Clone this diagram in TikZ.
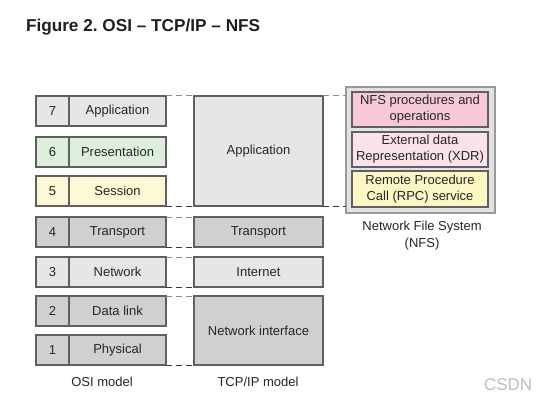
\documentclass[tikz,border=0pt]{standalone}
\usepackage{fontspec}
\setmainfont{Liberation Sans}
\begin{document}
\frenchspacing
\begin{tikzpicture}[x=1pt,y=-1pt,
  every node/.style={inner sep=0pt, outer sep=0pt},
  lay/.style={draw=boxborder, line width=1.1pt, font=\fontsize{13}{14}\selectfont, text=txt, anchor=center},
  lbl/.style={font=\fontsize{13}{15}\selectfont, text=txt},
  dtop/.style={draw=dashtop, line width=1pt, dash pattern=on 6pt off 4pt},
  dbot/.style={draw=dashbot, line width=1pt, dash pattern=on 6pt off 4pt}]
\definecolor{boxborder}{HTML}{606060}
\definecolor{txt}{HTML}{262626}
\definecolor{lightg}{HTML}{E6E6E8}
\definecolor{darkg}{HTML}{D0D0D2}
\definecolor{greenf}{HTML}{DDEFDC}
\definecolor{yellowf}{HTML}{FDF8D6}
\definecolor{pinka}{HTML}{F7C8DA}
\definecolor{pinkb}{HTML}{FBE1EB}
\definecolor{yellowb}{HTML}{FCF5C4}
\definecolor{nfsouter}{HTML}{E2E2E2}
\definecolor{nfsborder}{HTML}{9A9A9A}
\definecolor{dashtop}{HTML}{8A8A8A}
\definecolor{dashbot}{HTML}{3A3A3A}
\definecolor{wm}{HTML}{BDBDBD}
\useasboundingbox (0,0) rectangle (549,409);
\fill[white] (0,0) rectangle (549,409);

% title
\node[anchor=west, font=\bfseries\fontsize{17.2}{19}\selectfont, text=black!88] (title) at (26,27) {Figure 2. OSI -- TCP/IP -- NFS};

% OSI layers
\foreach \n/\name/\c/\col in {7/Application/111/lightg, 6/Presentation/152/greenf, 5/Session/191/yellowf, 4/Transport/232/darkg, 3/Network/272/lightg, 2/Data link/311/darkg, 1/Physical/350/darkg}{
  \node[lay, fill=\col, minimum width=33pt, minimum height=30pt] (num\n) at (52.5,\c) {\n};
  \node[lay, fill=\col, minimum width=97pt, minimum height=30pt] (osi\n) at (117.5,\c) {\name};
}
\node[lbl] (osilabel) at (102,382) {OSI model};

% TCP/IP
\node[lay, fill=lightg, minimum width=129pt, minimum height=110pt] (tapp) at (258.5,151) {Application};
\node[lay, fill=darkg, minimum width=129pt, minimum height=30pt] (ttrans) at (258.5,232) {Transport};
\node[lay, fill=lightg, minimum width=129pt, minimum height=30pt] (tinet) at (258.5,272) {Internet};
\node[lay, fill=darkg, minimum width=129pt, minimum height=69pt] (tnet) at (258.5,330.5) {Network interface};
\node[lbl] (tcplabel) at (258,382) {TCP/IP model};

% NFS
\node[lay, fill=nfsouter, draw=nfsborder, minimum width=149pt, minimum height=126pt] (nfs) at (420.5,150) {};
\node[lay, fill=pinka, minimum width=136pt, minimum height=35pt, align=center, font=\fontsize{13}{16}\selectfont] (nfsproc) at (420,109.5) {NFS procedures and\\operations};
\node[lay, fill=pinkb, minimum width=136pt, minimum height=35pt, align=center, font=\fontsize{13}{16}\selectfont] (xdr) at (420,149.5) {External data\\Representation (XDR)};
\node[lay, fill=yellowb, minimum width=136pt, minimum height=36pt, align=center, font=\fontsize{13}{16}\selectfont] (rpc) at (420,189) {Remote Procedure\\Call (RPC) service};
\node[lbl, align=center, font=\fontsize{13}{17}\selectfont] (nfslabel) at (422,235.5) {Network File System\\(NFS)};

% dashed connectors OSI -> TCP/IP
\draw[dtop] (osi7.north east) -- (tapp.north west);
\draw[dbot] (osi5.south east) -- (tapp.south west);
\draw[dtop] (osi4.north east) -- (ttrans.north west);
\draw[dbot] (osi4.south east) -- (ttrans.south west);
\draw[dtop] (osi3.north east) -- (tinet.north west);
\draw[dbot] (osi3.south east) -- (tinet.south west);
\draw[dtop] (osi2.north east) -- (tnet.north west);
\draw[dbot] (osi1.south east) -- (tnet.south west);
% TCP/IP -> NFS
\coordinate (nfstop) at (nfs.west |- tapp.north);
\coordinate (nfsbot) at (nfs.west |- tapp.south);
\draw[dtop] (tapp.north east) -- (nfstop);
\draw[dbot] (tapp.south east) -- (nfsbot);

% watermark
\node[anchor=west, font=\fontsize{17}{19}\selectfont, text=wm] (wmark) at (484,385) {CSDN};
\end{tikzpicture}
\end{document}
